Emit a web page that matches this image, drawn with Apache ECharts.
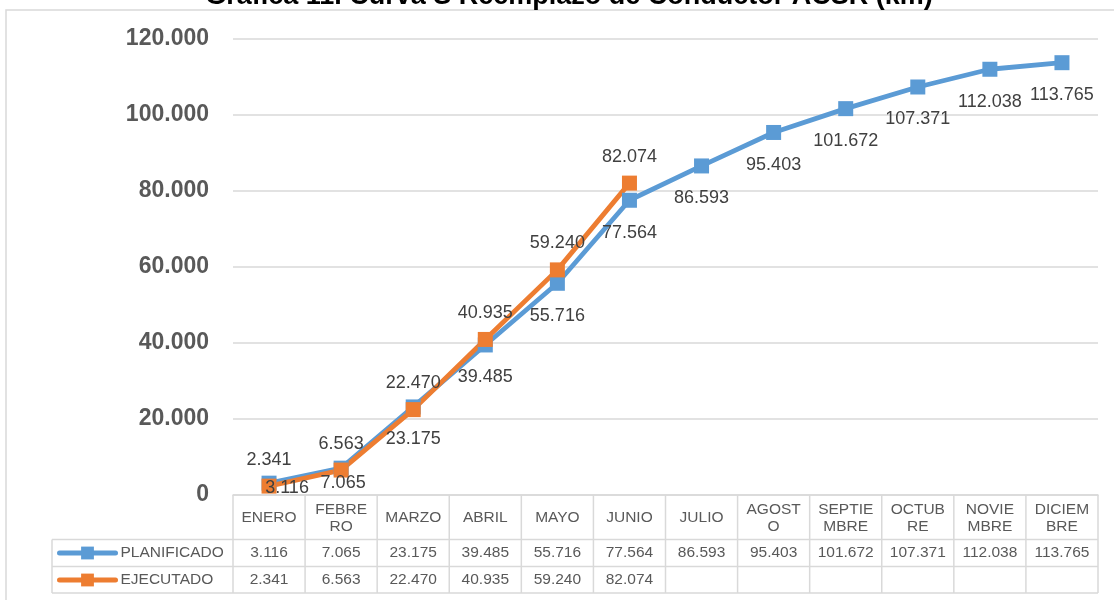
<!DOCTYPE html>
<html>
<head>
<meta charset="utf-8">
<script src="https://cdn.jsdelivr.net/npm/echarts@6/dist/echarts.min.js"></script>
<style>
  html, body { margin: 0; padding: 0; background: #ffffff; }
  #chart { width: 1114px; height: 600px; }
</style>
</head>
<body>
<div id="chart"></div>
<script>
// Months (header row of the data table, wrapped as shown in the table cells)
const months = ['ENERO', 'FEBRE\nRO', 'MARZO', 'ABRIL', 'MAYO', 'JUNIO', 'JULIO',
                'AGOST\nO', 'SEPTIE\nMBRE', 'OCTUB\nRE', 'NOVIE\nMBRE', 'DICIEM\nBRE'];

// Cumulative planned and executed values
const planificado = [3116, 7065, 23175, 39485, 55716, 77564, 86593, 95403, 101672, 107371, 112038, 113765];
const ejecutado = [2341, 6563, 22470, 40935, 59240, 82074];

// Value axis range
const yMin = 0;
const yMax = 120000;
const yStep = 20000;

const seriesNames = ['PLANIFICADO', 'EJECUTADO'];
const titleText = 'Gráfica 11. Curva S Reemplazo de Conductor ACSR (km)';

// Layout
const W = 1114, H = 600;
const gridLeft = 233, gridRight = 1098, gridTop = 39, gridBottom = 495;
const rowHeader = 539.5, rowPlan = 566.5, rowExec = 593;
const legendLeft = 52;
const FONT = '"Liberation Sans", Arial, sans-serif';
const GRAY = '#d9d9d9';
const TEXT = '#595959';

// Thousands separator with a dot
function fmt(n) {
  return String(n).replace(/\B(?=(\d{3})+(?!\d))/g, '.');
}

const chart = echarts.init(document.getElementById('chart'), null, { renderer: 'canvas' });

const tableLabel = {
  interval: 0,
  verticalAlign: 'middle',
  fontSize: 15.5,
  color: TEXT,
  fontFamily: FONT
};

// Table borders
const colW = (gridRight - gridLeft) / months.length;
const tableLines = [];
function hLine(x1, x2, y) {
  tableLines.push({ type: 'line', silent: true, shape: { x1, y1: y, x2, y2: y },
    style: { stroke: GRAY, lineWidth: 1.5 } });
}
function vLine(x, y1, y2) {
  tableLines.push({ type: 'line', silent: true, shape: { x1: x, y1, x2: x, y2 },
    style: { stroke: GRAY, lineWidth: 1.5 } });
}
for (let i = 0; i <= months.length; i++) {
  vLine(gridLeft + i * colW, gridBottom, rowExec);
}
vLine(legendLeft, rowHeader, rowExec);
hLine(legendLeft, gridRight, rowHeader);
hLine(legendLeft, gridRight, rowPlan);
hLine(legendLeft, gridRight, rowExec);

// The first two planned labels sit beside their markers, clear of the axis
const planLabelShift = { 0: [18, 5], 1: [2, 15] };
const planData = planificado.map((v, i) => planLabelShift[i]
  ? { value: v, label: { position: 'inside', offset: planLabelShift[i] } }
  : v);

const option = {
  animation: false,
  backgroundColor: '#ffffff',
  color: ['#5B9BD5', '#ED7D31'],
  grid: {
    left: gridLeft,
    right: W - gridRight,
    top: gridTop,
    bottom: H - gridBottom,
    containLabel: false
  },
  legend: {
    data: seriesNames,
    orient: 'vertical',
    left: 57,
    top: 545,
    padding: 0,
    itemWidth: 56,
    itemHeight: 16,
    itemGap: 11,
    lineStyle: { width: 5, cap: 'round' },
    textStyle: { fontSize: 15.5, color: TEXT, fontFamily: FONT }
  },
  xAxis: [
    {
      type: 'category',
      data: months,
      boundaryGap: true,
      axisTick: { show: false },
      axisLine: { lineStyle: { color: GRAY, width: 1.5 } },
      axisLabel: Object.assign({}, tableLabel, { margin: 23, lineHeight: 17 })
    },
    {
      type: 'category',
      data: planificado.map(fmt),
      position: 'bottom',
      axisTick: { show: false },
      axisLine: { show: false },
      axisLabel: Object.assign({}, tableLabel, { margin: 58 })
    },
    {
      type: 'category',
      data: months.map((_, i) => i < ejecutado.length ? fmt(ejecutado[i]) : ''),
      position: 'bottom',
      axisTick: { show: false },
      axisLine: { show: false },
      axisLabel: Object.assign({}, tableLabel, { margin: 85 })
    }
  ],
  yAxis: {
    type: 'value',
    min: yMin,
    max: yMax,
    interval: yStep,
    axisLine: { show: false },
    axisTick: { show: false },
    splitLine: { lineStyle: { color: GRAY, width: 1.5 } },
    axisLabel: {
      margin: 24,
      fontSize: 23,
      fontWeight: 'bold',
      color: TEXT,
      fontFamily: FONT,
      formatter: v => fmt(v)
    }
  },
  series: [
    {
      name: seriesNames[0],
      type: 'line',
      xAxisIndex: 0,
      data: planData,
      symbol: 'rect',
      symbolSize: 15,
      lineStyle: { width: 4.8, color: '#5B9BD5' },
      itemStyle: { color: '#5B9BD5' },
      label: {
        show: true,
        position: 'bottom',
        distance: 16,
        fontSize: 18,
        color: '#404040',
        fontFamily: FONT,
        formatter: p => fmt(p.value)
      },
      z: 2
    },
    {
      name: seriesNames[1],
      type: 'line',
      xAxisIndex: 0,
      data: ejecutado,
      symbol: 'rect',
      symbolSize: 15,
      lineStyle: { width: 4.8, color: '#ED7D31' },
      itemStyle: { color: '#ED7D31' },
      label: {
        show: true,
        position: 'top',
        distance: 10,
        fontSize: 18,
        color: '#404040',
        fontFamily: FONT,
        formatter: p => fmt(p.value)
      },
      z: 2
    }
  ],
  graphic: [
    // Chart frame
    {
      type: 'rect',
      silent: true,
      shape: { x: 6, y: 10, width: 1200, height: 700 },
      style: { fill: 'none', stroke: GRAY, lineWidth: 1.5 },
      z: -1
    },
    // Title
    {
      type: 'text',
      silent: true,
      x: 569,
      y: -3,
      style: {
        text: titleText,
        fontSize: 27,
        fontWeight: 'bold',
        fontFamily: FONT,
        fill: '#000000',
        align: 'center',
        verticalAlign: 'middle'
      }
    }
  ].concat(tableLines)
};

chart.setOption(option);
</script>
</body>
</html>
